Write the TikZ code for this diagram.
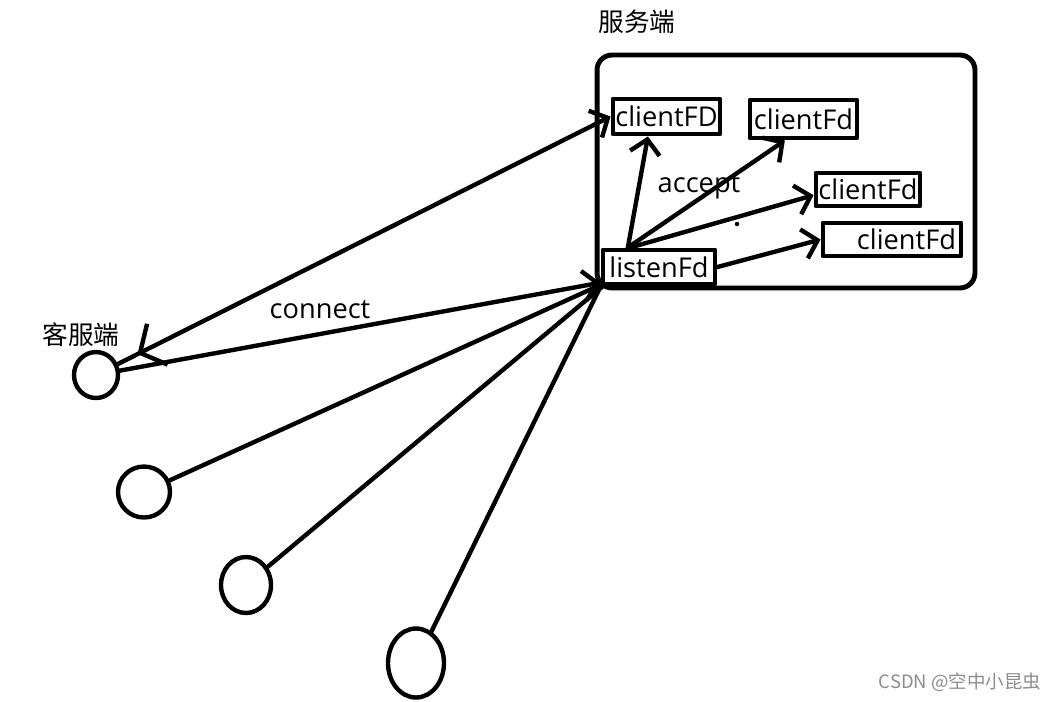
\documentclass[tikz,border=0pt]{standalone}
\usepackage{fontspec}
\setmainfont{Open Sans}
\newfontfamily\cjkfont{Noto Sans CJK SC}
\usetikzlibrary{arrows.meta, positioning, shapes.geometric, decorations.markings}
\tikzset{
    pen/.style={line width=2.5pt, line cap=round, line join=round},
    tip/.style={-{Straight Barb[length=8pt, width=17pt]}},
    fdbox/.style={draw, pen, line width=2.8pt, rectangle, inner sep=0pt, font=\fontsize{15.5}{18}\selectfont},
    client/.style={draw, pen, ellipse, inner sep=0pt},
    word/.style={inner sep=0pt, font=\fontsize{15.5}{18}\selectfont},
    cjkword/.style={inner sep=0pt, font=\cjkfont\fontsize{14.6}{17}\selectfont},
    backtip/.style={
        decoration={
            markings,
            mark= at position #1 with
                {
                    \arrowreversed{Straight Barb[length=11pt, width=26pt]}
                },
        },
        postaction={decorate}
    },
    backtip/.default={0.04}
}

\begin{document}
\begin{tikzpicture}[x=0.02cm, y=-0.02cm]
    \useasboundingbox (0,0) rectangle (1061,701);
    % server side
    \node[draw, pen, line width=2.8pt, rounded corners=0.3cm, minimum width=7.56cm, minimum height=4.66cm] (server) at (786,171.5) {};
    \node[cjkword] (servername) at (637,22) {服务端};
    \node[fdbox, minimum width=2.14cm, minimum height=0.70cm] (fdA) at (666.5,116.5) {clientFD};
    \node[fdbox, minimum width=2.14cm, minimum height=0.76cm] (fdB) at (803.5,119) {\raisebox{-2pt}{clientFd}};
    \node[fdbox, minimum width=2.08cm, minimum height=0.66cm] (fdC) at (868,189.5) {clientFd};
    \node[fdbox, minimum height=0.66cm, text width=2.56cm, inner xsep=0.1cm, align=right] (fdD) at (892,239.5) {clientFd};
    \node[fdbox, minimum width=2.24cm, minimum height=0.68cm] (listen) at (659,267) {listenFd};
    \node[word] (accept) at (699,187) {accept};
    \fill (737,224) circle (0.045cm);
    \draw[pen, tip] (listen.148) -- (fdA.227);
    \draw[pen, tip] (listen.148) -- (fdB.229);
    \draw[pen, tip] (listen.146) -- (fdC.186);
    \draw[pen, tip] (listen.east) -- (fdD.west);
    % client side
    \node[client, minimum width=0.88cm, minimum height=0.92cm] (c1) at (96,375) {};
    \node[client, minimum width=1.04cm, minimum height=1.02cm] (c2) at (144,492) {};
    \node[client, minimum width=1.00cm, minimum height=1.12cm] (c3) at (246,585) {};
    \node[client, minimum width=1.12cm, minimum height=1.38cm] (c4) at (416,663) {};
    \node[cjkword] (clientname) at (81,335) {客服端};
    \node[word] (connect) at (320,310) {connect};
    \draw[pen, tip, backtip] (c1) -- (fdA.west);
    \draw[pen, tip] (c1) -- (listen.195);
    \draw[pen] (c2) -- (listen.197);
    \draw[pen] (c3) -- (listen.199);
    \draw[pen] (c4) -- (listen.south west);
    \node[inner sep=0pt, text=black!45, font=\cjkfont\fontsize{10.5}{12}\selectfont] (mark) at (960,682) {CSDN @空中小昆虫};
\end{tikzpicture}
\end{document}
